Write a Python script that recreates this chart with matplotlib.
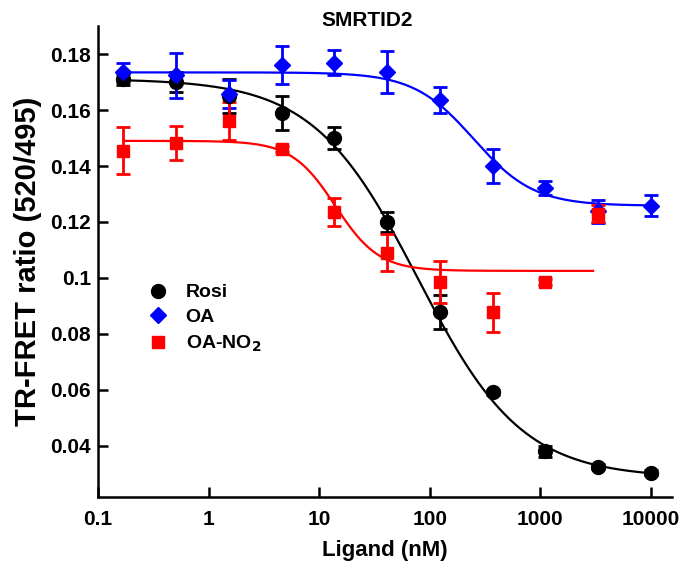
import numpy as np
import matplotlib
matplotlib.use("Agg")
import matplotlib.pyplot as plt
from matplotlib.lines import Line2D

plt.rcParams['font.family'] = ['Liberation Sans', 'DejaVu Sans']
plt.rcParams['font.weight'] = 'bold'

# ligand concentrations (nM), 3-fold dilution series
conc = [0.17, 0.51, 1.52, 4.57, 13.7, 41.2, 123, 370, 1111, 3333, 10000]

# Rosi
rosi_y = [0.171, 0.170, 0.165, 0.159, 0.150, 0.120, 0.0877, 0.059, 0.038, 0.0325, 0.0303]
rosi_err = [0.002, 0.0035, 0.006, 0.006, 0.004, 0.0035, 0.006, 0.001, 0.002, 0.0008, 0.0008]

# OA
oa_y = [0.1735, 0.1725, 0.1656, 0.176, 0.177, 0.1735, 0.1635, 0.140, 0.1322, 0.1238, 0.1258]
oa_err = [0.0035, 0.008, 0.005, 0.0068, 0.0045, 0.0075, 0.0047, 0.006, 0.0026, 0.004, 0.0037]

# OA-NO2 (no 10000 nM point)
no2_conc = conc[:10]
no2_y = [0.1455, 0.1483, 0.156, 0.1462, 0.1235, 0.109, 0.0985, 0.0877, 0.0985, 0.1229]
no2_err = [0.0085, 0.006, 0.0068, 0.001, 0.005, 0.0066, 0.0074, 0.0069, 0.001, 0.003]

# fitted dose-response curves: top, bottom, IC50, hill, x range
rosi_fit = (0.1712, 0.0285, 78.0, 0.92, 0.17, 10000)
oa_fit = (0.1735, 0.1258, 250.0, 1.6, 0.17, 10000)
no2_fit = (0.149, 0.1025, 14.0, 2.2, 0.17, 3000)


def curve(p):
    top, bottom, ic50, hill, x0, x1 = p
    x = np.logspace(np.log10(x0), np.log10(x1), 300)
    return x, bottom + (top - bottom) / (1 + (x / ic50) ** hill)


fig = plt.figure(figsize=(6.97, 5.61), dpi=100)
ax = fig.add_axes([0.1406, 0.1135, 0.8234, 0.8402])

series = [
    (conc, rosi_y, rosi_err, rosi_fit, 'black', 'o', 10),
    (conc, oa_y, oa_err, oa_fit, '#0000ff', 'D', 8),
    (no2_conc, no2_y, no2_err, no2_fit, '#ff0000', 's', 9),
]
for x, y, e, fit, c, m, ms in series:
    cx, cy = curve(fit)
    ax.plot(cx, cy, color=c, lw=1.6)
    ax.errorbar(x, y, yerr=e, fmt=m, color=c, ms=ms, elinewidth=2,
                capsize=5, capthick=2, mec=c)

ax.set_xscale('log')
ax.set_xlim(0.1, 15500)
ax.set_ylim(0.0215, 0.1901)
ax.set_xticks([0.1, 1, 10, 100, 1000, 10000])
ax.set_xticklabels(['0.1', '1', '10', '100', '1000', '10000'])
ax.xaxis.set_minor_locator(matplotlib.ticker.NullLocator())
ax.set_yticks([0.04, 0.06, 0.08, 0.1, 0.12, 0.14, 0.16, 0.18])
ax.set_yticklabels(['0.04', '0.06', '0.08', '0.1', '0.12', '0.14', '0.16', '0.18'])

for s in ['top', 'right']:
    ax.spines[s].set_visible(False)
for s in ['left', 'bottom']:
    ax.spines[s].set_linewidth(1.8)
ax.tick_params(direction='in', length=7, width=1.8, labelsize=15)
ax.tick_params(axis='x', pad=9)
ax.tick_params(axis='y', pad=5)

ax.set_xlabel('Ligand (nM)', fontsize=16, fontweight='bold', labelpad=8)
ax.set_ylabel('TR-FRET ratio (520/495)', fontsize=21, fontweight='bold', labelpad=6)
fig.text(0.527, 0.964, 'SMRTID2', ha='center', va='center', fontsize=15, fontweight='bold')

handles = [Line2D([], [], ls='none', marker='o', color='black', ms=10),
           Line2D([], [], ls='none', marker='D', color='#0000ff', ms=8),
           Line2D([], [], ls='none', marker='s', color='#ff0000', ms=9)]
ax.legend(handles, ['Rosi', 'OA', 'OA-NO$_\\mathbf{2}$'], loc='upper left',
          bbox_to_anchor=(0.041, 0.49), frameon=False, fontsize=14,
          handletextpad=0.4, labelspacing=0.37)

fig.savefig('out.png', dpi=100)
